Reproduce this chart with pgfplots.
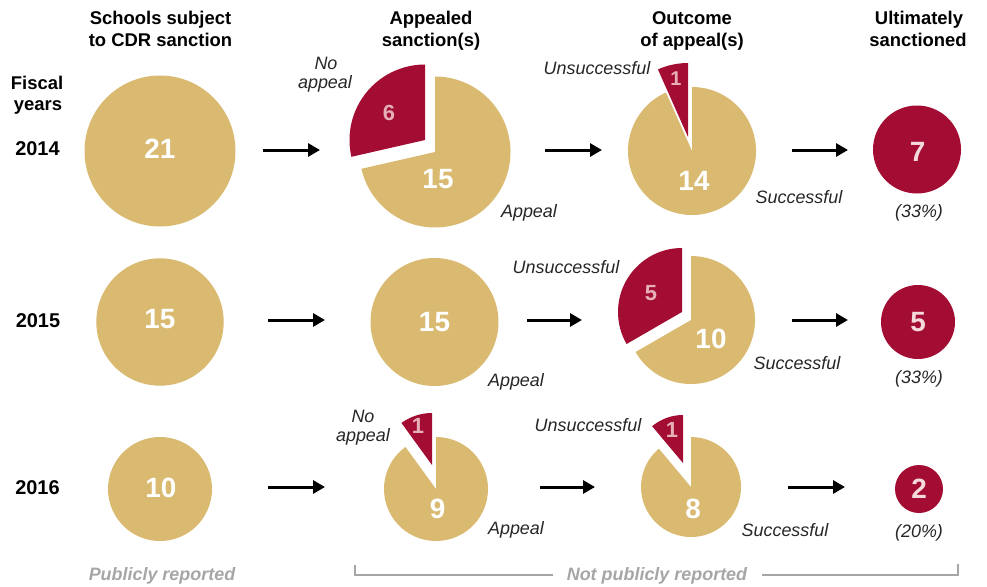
\documentclass[border=0pt]{standalone}
\usepackage{pgfplots}
\usepackage{pgfplotstable}
\pgfplotsset{compat=1.18}
\usepackage{fontspec}
\setmainfont{Liberation Sans}
\usetikzlibrary{arrows.meta}
\definecolor{goldc}{RGB}{217,186,112}
\definecolor{redc}{RGB}{163,13,52}
\definecolor{pinkc}{RGB}{230,176,184}
\definecolor{pinkl}{RGB}{244,218,220}
\definecolor{grayc}{RGB}{166,166,166}
\definecolor{txtc}{RGB}{38,38,38}

\newcommand\wedgepath{%
  \pgfpathmoveto{\pgfpointorigin}%
  \pgfpathlineto{\pgfpointpolar{\wang}{\wrad bp}}%
  \pgfpatharc{\wang}{\wend}{\wrad bp}%
  \pgfpathclose}
\pgfdeclareplotmark{wedgegold}{\pgfsetfillcolor{goldc}\wedgepath\pgfusepathqfill}
\pgfdeclareplotmark{wedgered}{\pgfsetfillcolor{redc}\wedgepath\pgfusepathqfill}

% positions in pixels (x right, y down); r = radius; a,b = start/end angle; v = count
\pgfplotstableread{
x     y     r     a       b      v
160   151   75.5  0       360    21
160   322   63.7  0       360    15
160   489   52    0       360    10
435   152   75.5  192.86  450    15
434.5 322   64    0       360    15
436   489   52    126     450    9
692   151   64    114     450    14
691   320   64    210     450    10
691   487   50    130     450    8
}\goldtab
\pgfplotstableread{
x     y     r     a    b       v
425   140   75.5  90   192.86  6
432   465   52    90   126     1
688   137   74    90   114     1
682   312   64    90   210     5
683   463   48    90   130     1
917   149.5 44    0    360     7
918   322   37    0    360     5
919   489   24    0    360     2
}\redtab
% label positions
\pgfplotstableread{
x     y     t
160   148   21
160   318   15
161   487   10
438   178   15
434.5 321   15
437.5 508   9
694   180   14
711   338   10
693   508   8
}\goldlbl
\pgfplotstableread{
x     y     t
389   113   6
418   426   1
651   293   5
672   430   1
}\wedgelbl
\pgfplotstableread{
x     y     t
676   78    1
}\smalllbl
\pgfplotstableread{
x     y     t
917.5 151   7
918   321   5
919   488   2
}\redlbl

\pgfplotsset{
  pie/.style={scatter, only marks, mark=#1,
    visualization depends on={\thisrow{r}\as\wrad},
    visualization depends on={\thisrow{a}\as\wang},
    visualization depends on={\thisrow{b}\as\wend},
    scatter/@pre marker code/.code={},
    scatter/@post marker code/.code={}},
  num/.style n args={3}{draw=none, mark=none, nodes near coords,
    point meta=explicit symbolic,
    every node near coord/.append style={anchor=center, inner sep=0pt,
      text height=#3, text depth=0pt,
      font=\bfseries\fontsize{#1}{#1}\selectfont, text=#2}},
}
\tikzset{
  hd/.style={inner sep=0pt, anchor=center, text height=13.3pt, text depth=0pt,
    font=\bfseries\fontsize{18.5}{20}\selectfont, text=black},
  yr/.style={hd, text height=14.4pt, font=\bfseries\fontsize{20}{22}\selectfont},
  it/.style={inner sep=0pt, anchor=center, text height=13pt, text depth=0pt,
    font=\itshape\fontsize{18}{20}\selectfont, text=txtc},
  gr/.style={inner sep=0pt, anchor=center, text height=13pt, text depth=0pt,
    font=\bfseries\itshape\fontsize{18}{20}\selectfont, text=grayc},
  arr/.style={line width=3bp, black, -{Triangle[length=12bp, width=13bp]}},
}

\begin{document}
\begin{tikzpicture}
\begin{axis}[width=987bp, height=587bp, scale only axis,
  xmin=0, xmax=987, ymin=0, ymax=587, y dir=reverse,
  hide axis, clip=false]
\addplot[pie=wedgegold] table[x=x, y=y] {\goldtab};
\addplot[pie=wedgered] table[x=x, y=y] {\redtab};
\addplot[num={28}{white}{20.2pt}] table[x=x, y=y, meta=t] {\goldlbl};
\addplot[num={22}{pinkc}{15.8pt}] table[x=x, y=y, meta=t] {\wedgelbl};
\addplot[num={20}{pinkc}{14.4pt}] table[x=x, y=y, meta=t] {\smalllbl};
\addplot[num={28}{pinkl}{20.2pt}] table[x=x, y=y, meta=t] {\redlbl};

% arrows
\draw[arr] (263,150) -- (320,150);
\draw[arr] (545,150) -- (602,150);
\draw[arr] (792,150) -- (848,150);
\draw[arr] (268,320) -- (325,320);
\draw[arr] (527,320) -- (582,320);
\draw[arr] (792,320) -- (848,320);
\draw[arr] (268,487) -- (325,487);
\draw[arr] (540,487) -- (595,487);
\draw[arr] (788,487) -- (845,487);

% headers
\node[hd] at (160.5,18) {Schools subject};
\node[hd] at (160.5,39.5) {to CDR sanction};
\node[hd] at (431,18) {Appealed};
\node[hd] at (431,40) {sanction(s)};
\node[hd] at (692,18) {Outcome};
\node[hd] at (692,40) {of appeal(s)};
\node[hd] at (919,18) {Ultimately};
\node[hd] at (918,40) {sanctioned};
\node[hd] at (37,83) {Fiscal};
\node[hd] at (38,104) {years};
\node[yr] at (37.5,148) {2014};
\node[yr] at (38,320) {2015};
\node[yr] at (37.5,487) {2016};

% italic labels
\node[it] at (326,63) {No};
\node[it] at (325,82.5) {appeal};
\node[it] at (529,211) {Appeal};
\node[it] at (597,68) {Unsuccessful};
\node[it] at (799,197) {Successful};
\node[it] at (919,211) {(33\%)};
\node[it] at (516,380) {Appeal};
\node[it] at (566,267) {Unsuccessful};
\node[it] at (797,363) {Successful};
\node[it] at (919,377) {(33\%)};
\node[it] at (363,416) {No};
\node[it] at (363,435) {appeal};
\node[it] at (516,528) {Appeal};
\node[it] at (588,425) {Unsuccessful};
\node[it] at (785,530) {Successful};
\node[it] at (919,531) {(20\%)};

% bottom
\node[gr] at (162,574) {Publicly reported};
\node[gr] at (657,574) {Not publicly reported};
\draw[grayc, line width=1.2bp] (355,565) -- (355,575) -- (553,575);
\draw[grayc, line width=1.2bp] (762,575) -- (958,575) -- (958,564);
\end{axis}
\pgfresetboundingbox
\path[use as bounding box] (current axis.south west) rectangle (current axis.north east);
\end{tikzpicture}
\end{document}
